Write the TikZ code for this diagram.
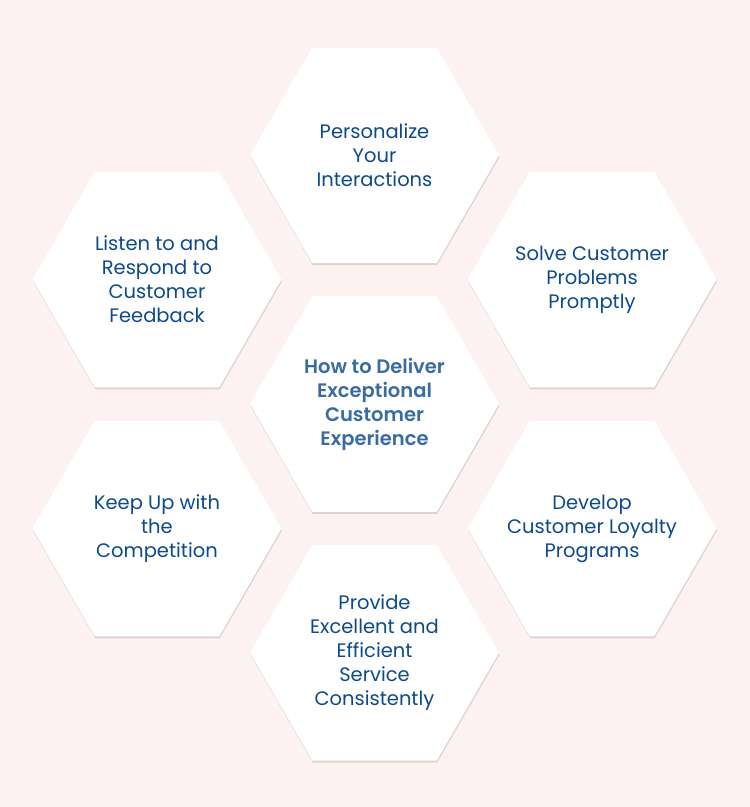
\documentclass[tikz,border=0pt]{standalone}
\usepackage{fontspec}
\setmainfont{Poppins}[BoldFont={Poppins SemiBold}]
\usepackage{tikz}
\usetikzlibrary{positioning, shapes.geometric, shadows}
\definecolor{bgpink}{HTML}{FDF1F1}
\definecolor{textblue}{HTML}{0D4A8B}
\definecolor{coreblue}{HTML}{3A6C9F}
\tikzset{
  hexbox/.style   = {regular polygon, regular polygon sides=6,
                     minimum size=249pt, inner sep=0pt, outer sep=0pt,
                     fill=white, draw=none,
                     drop shadow={shadow xshift=0.5pt, shadow yshift=-2pt,
                                  fill=black, opacity=0.12}},
  hextext/.style  = {align=center, text=textblue,
                     font=\fontsize{19.5}{24}\selectfont},
  coretext/.style = {hextext, text=coreblue,
                     font=\fontsize{19.5}{24}\selectfont\bfseries},
  hexnode/.style  = {hexbox, label={[hextext]center:#1}},
  corenode/.style = {hexbox, label={[coretext]center:#1}},
}

\begin{document}
\begin{tikzpicture}
    % --- canvas -------------------------------------------------------------
    \fill[bgpink] (0,0) rectangle (750pt,-807pt);
    \useasboundingbox (0,0) rectangle (750pt,-807pt);

    % --- centre -------------------------------------------------------------
    \node[corenode={How to Deliver\\Exceptional\\Customer\\Experience}]
      (core) at (374.5pt,-404pt) {};

    % --- ring ---------------------------------------------------------------
    \node[hexnode={Personalize\\Your\\Interactions},
          above=33pt of core] (personal) {};
    \node[hexnode={Provide\\Excellent and\\Efficient\\Service\\Consistently},
          below=33pt of core] (service) {};
    \node[hexnode={Listen to and\\Respond to\\Customer\\Feedback},
          left=-31.5pt of core, yshift=124.5pt] (listen) {};
    \node[hexnode={Keep Up with\\the\\Competition},
          left=-31.5pt of core, yshift=-124.5pt] (compete) {};
    \node[hexnode={Solve Customer\\Problems\\Promptly},
          right=-31.5pt of core, yshift=124.5pt] (solve) {};
    \node[hexnode={Develop\\Customer Loyalty\\Programs},
          right=-31.5pt of core, yshift=-124.5pt] (loyalty) {};
  \end{tikzpicture}
\end{document}
